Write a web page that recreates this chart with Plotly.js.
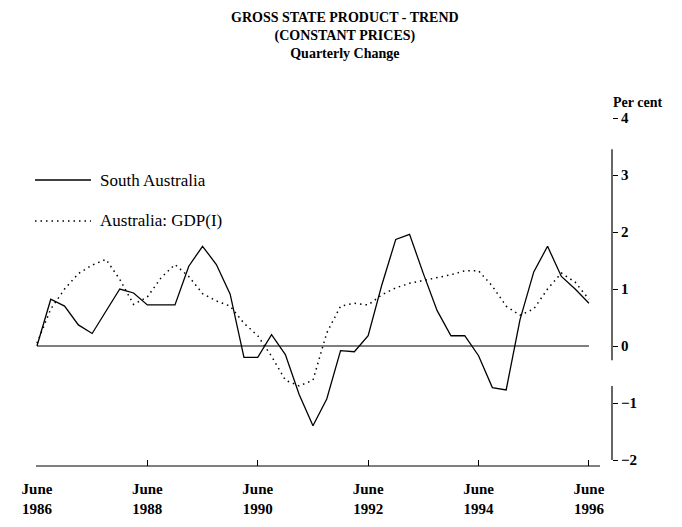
<!DOCTYPE html>
<html>
<head>
<meta charset="utf-8">
<script src="https://cdn.plot.ly/plotly-3.0.1.min.js"></script>
<style>html,body{margin:0;padding:0;background:#fff}#chart{width:682px;height:527px}</style>
</head>
<body>
<div id="chart"></div>
<script>
// Quarter index: 0 = June 1986 ... 40 = June 1996
const quarters = Array.from({length: 41}, (_, i) => i);
const southAustralia = [0, 0.82, 0.7, 0.37, 0.22, 0.6, 1.0, 0.93, 0.72, 0.72,
  0.72, 1.4, 1.75, 1.43, 0.91, -0.2, -0.2, 0.2, -0.15, -0.85,
  -1.4, -0.93, -0.08, -0.1, 0.18, 1.08, 1.87, 1.96, 1.27, 0.62,
  0.18, 0.18, -0.17, -0.73, -0.77, 0.46, 1.3, 1.75, 1.22, 1.0, 0.75];
const australiaGDP = [0.05, 0.65, 1.0, 1.27, 1.42, 1.52, 1.17, 0.73, 0.86, 1.2,
  1.43, 1.22, 0.92, 0.79, 0.7, 0.4, 0.18, -0.18, -0.6, -0.7,
  -0.6, 0.23, 0.7, 0.75, 0.72, 0.9, 1.02, 1.1, 1.15, 1.2,
  1.25, 1.32, 1.32, 1.05, 0.7, 0.54, 0.65, 1.0, 1.28, 1.12, 0.82];
const seriesNames = ["South Australia", "Australia: GDP(I)"];
const tickQuarters = [0, 8, 16, 24, 32, 40];
const tickLabels = ["June<br>1986", "June<br>1988", "June<br>1990", "June<br>1992", "June<br>1994", "June<br>1996"];
const yTicks = [-2, -1, 0, 1, 2, 3, 4];

const serif = "Liberation Serif, Times New Roman, serif";
const dotted = {color: "#000", width: 1.5, dash: "1.5px,4px"};
const solid = {color: "#000", width: 1.3};
const traces = [
  {x: quarters, y: southAustralia, type: "scatter", mode: "lines", name: seriesNames[0], line: solid},
  {x: quarters, y: australiaGDP, type: "scatter", mode: "lines", name: seriesNames[1], line: dotted}
];
// pixel -> paper helpers for decorations
const px = x => (x - 36) / 576;
const py = y => (466 - y) / 348;
const layout = {
  width: 682, height: 527,
  margin: {l: 36, r: 70, t: 118, b: 61},
  paper_bgcolor: "#fff", plot_bgcolor: "#fff",
  font: {family: serif, color: "#000", size: 14},
  showlegend: false,
  xaxis: {range: [-0.07, 41.67], tickvals: tickQuarters, ticktext: tickLabels,
    ticks: "inside", ticklen: 6, tickcolor: "#000", showline: false, showgrid: false, zeroline: false,
    ticklabelstandoff: 12, tickfont: {family: serif, size: 15, color: "#000", weight: "bold"}, fixedrange: true},
  yaxis: {range: [-2.105, 4], side: "right", tickvals: yTicks, ticks: "outside", ticklen: 5,
    tickcolor: "#000", showline: false, showgrid: false, zeroline: false,
    tickfont: {family: serif, size: 15, color: "#000", weight: "bold"}, fixedrange: true},
  shapes: [
    {type: "line", xref: "x", yref: "y", x0: 0, x1: 40, y0: 0, y1: 0, line: {color: "#000", width: 1.2}},
    {type: "line", xref: "x", yref: "paper", x0: -0.07, x1: 40.8, y0: 0, y1: 0, line: {color: "#000", width: 1.2}},
    {type: "line", xref: "paper", yref: "y", x0: 1, x1: 1, y0: 3.45, y1: -0.25, line: {color: "#000", width: 1.2}},
    {type: "line", xref: "paper", yref: "y", x0: 1, x1: 1, y0: -0.7, y1: -2, line: {color: "#000", width: 1.2}},
    {type: "line", xref: "paper", yref: "paper", x0: px(35), x1: px(91), y0: py(180), y1: py(180), line: solid},
    {type: "line", xref: "paper", yref: "paper", x0: px(35), x1: px(91), y0: py(221), y1: py(221), line: dotted}
  ],
  annotations: [
    {text: "<b>GROSS STATE PRODUCT - TREND<br>(CONSTANT PRICES)<br>Quarterly Change</b>",
     xref: "paper", yref: "paper", x: px(345), y: py(8), xanchor: "center", yanchor: "top",
     showarrow: false, font: {family: serif, size: 14, color: "#000"}},
    {text: "<b>Per cent</b>", xref: "paper", yref: "paper", x: px(611), y: py(112), xanchor: "left", yanchor: "bottom",
     showarrow: false, font: {family: serif, size: 14, color: "#000"}},
    {text: seriesNames[0], xref: "paper", yref: "paper", x: px(98), y: py(180), xanchor: "left", yanchor: "middle",
     showarrow: false, font: {family: serif, size: 17, color: "#000"}},
    {text: seriesNames[1], xref: "paper", yref: "paper", x: px(98), y: py(220), xanchor: "left", yanchor: "middle",
     showarrow: false, font: {family: serif, size: 17, color: "#000"}}
  ]
};
Plotly.newPlot("chart", traces, layout, {displayModeBar: false, staticPlot: true});
</script>
</body>
</html>
